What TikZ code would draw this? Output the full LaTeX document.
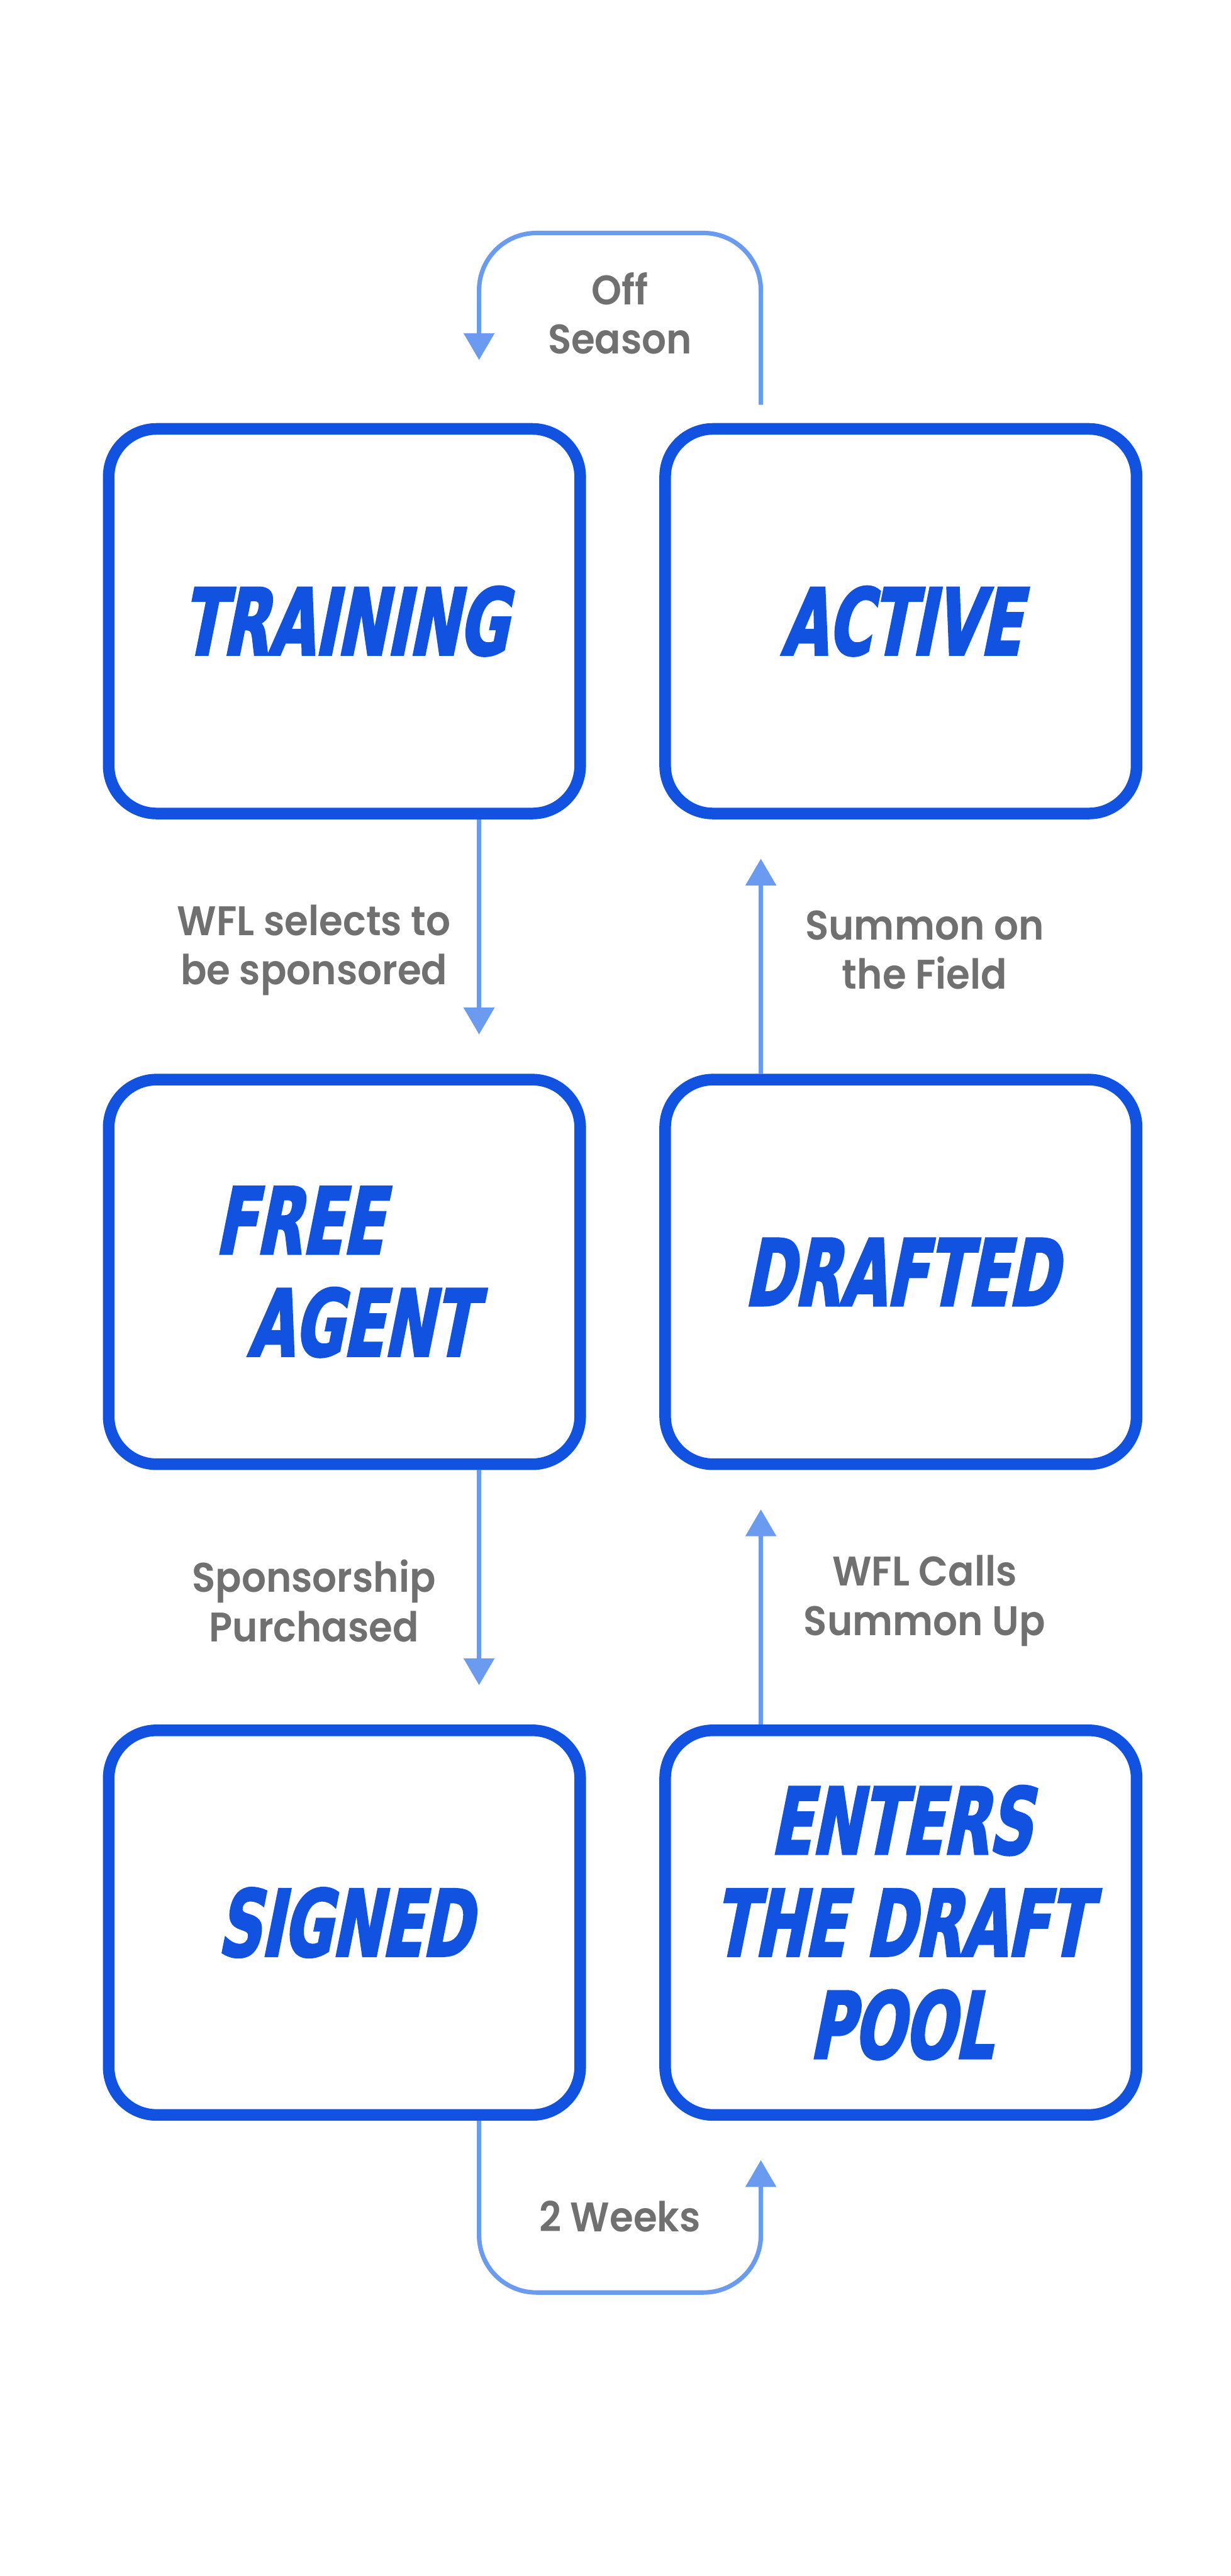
\documentclass[tikz,border=0pt]{standalone}
\usepackage{fontspec}
\usepackage{xcolor}
\usepackage{tikz}
\usetikzlibrary{positioning, arrows.meta}

\newfontfamily\titlefont[FakeSlant=0.2, FakeStretch=0.72, FakeBold=2.5]{DejaVu Sans Condensed Bold}
\newfontfamily\labelfont[FakeStretch=0.93]{Poppins SemiBold}
\definecolor{boxblue}{HTML}{1152E0}
\definecolor{flowblue}{HTML}{6A9BF0}
\definecolor{lblgray}{HTML}{707070}

\begin{document}
\begin{tikzpicture}[node distance=14.55cm and 12.44cm, on grid,
        box/.style={draw=boxblue, line width=0.26cm, rounded corners=1.07cm,
            minimum width=10.54cm, minimum height=8.60cm, inner sep=0pt,
            text=boxblue, align=center, font=\titlefont\fontsize{58.5}{65}\selectfont},
        flow/.style={draw, color=flowblue, line width=0.10cm, shorten >=0.88cm,
            -{Triangle[length=0.6cm, width=0.67cm]}},
        lbl/.style={text=lblgray, align=center, font=\labelfont\fontsize{26.3}{31.3}\selectfont}]
        \useasboundingbox (0,0) rectangle (27.52,-57.60);

        \node[box] (training) at (7.70,-13.89) {TRAINING};
        \node[box] (active) [right=of training] {ACTIVE};
        \node[box, align=left] (free) [below=of training] {FREE\\\hspace*{0.73cm}AGENT};
        \node[box] (drafted) [right=of free] {DRAFTED};
        \node[box] (signed) [below=of free] {SIGNED};
        \node[box] (pool) [right=of signed] {ENTERS\\THE DRAFT\\POOL};

        \path[every edge/.style=flow]
        ([xshift=3.01cm]training.south) edge node[lbl, xshift=-3.69cm, yshift=-0.08cm] {WFL selects to\\be sponsored} ([xshift=3.01cm]free.north)
        ([xshift=3.01cm]free.south) edge node[lbl, xshift=-3.69cm, yshift=-0.08cm] {Sponsorship\\Purchased} ([xshift=3.01cm]signed.north)
        ([xshift=-3.13cm]pool.north) edge node[lbl, xshift=3.66cm, yshift=-0.08cm] {WFL Calls\\Summon Up} ([xshift=-3.13cm]drafted.south)
        ([xshift=-3.13cm]drafted.north) edge node[lbl, xshift=3.66cm, yshift=-0.08cm] {Summon on\\the Field} ([xshift=-3.13cm]active.south);

        % season loop and draft wait
        \draw[flow, rounded corners=1.28cm, shorten >=0pt]
        ([xshift=-3.13cm, yshift=0.41cm]active.north) -- ++(0,3.84) -| ([xshift=3.01cm, yshift=1.41cm]training.north);
        \draw[flow, rounded corners=1.28cm]
        ([xshift=3.01cm]signed.south) -- ++(0,-3.84) -| ([xshift=-3.13cm]pool.south);

        \node[lbl] (offseason) at (13.86,-7.01) {Off\\Season};
        \node[lbl] (twoweeks) at (13.86,-49.56) {2 Weeks};
    \end{tikzpicture}
\end{document}
